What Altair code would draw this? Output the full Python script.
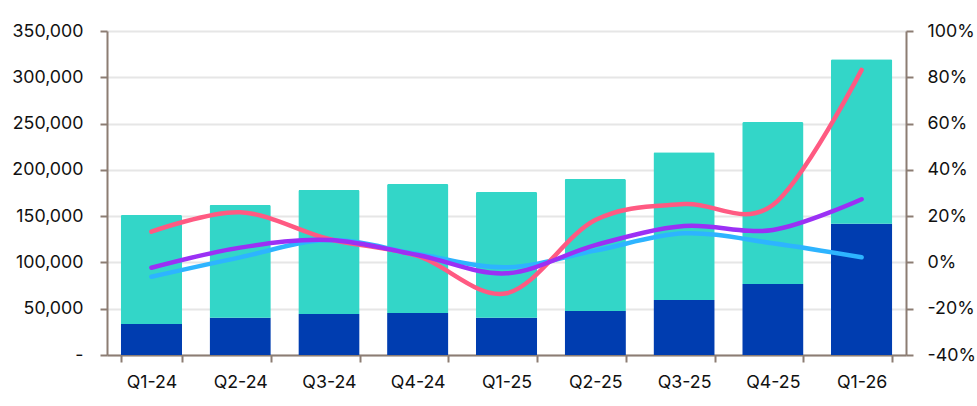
import altair as alt
import pandas as pd

categories = ["Q1-24", "Q2-24", "Q3-24", "Q4-24", "Q1-25", "Q2-25", "Q3-25", "Q4-25", "Q1-26"]
dark_values = [33500, 40300, 44300, 45400, 40300, 47500, 59400, 76700, 141800]
teal_values = [117700, 121700, 133900, 139300, 135700, 142600, 159600, 175000, 177600]
red_pct = [13.3, 21.7, 10.1, 2.8, -13.3, 18.3, 25.2, 24.8, 83.2]
purple_pct = [-2.3, 6.4, 9.7, 3.2, -4.7, 7.5, 15.7, 14.0, 27.3]
blue_pct = [-6.2, 2.2, 9.7, 3.6, -2.1, 5.1, 12.6, 8.3, 2.2]

FONT = "Inter"
FSIZE = 17.8
AXIS_COLOR = "#8C7D73"

bars = pd.DataFrame(
    [{"cat": c, "series": "A", "order": 0, "value": v} for c, v in zip(categories, dark_values)]
    + [{"cat": c, "series": "B", "order": 1, "value": v} for c, v in zip(categories, teal_values)]
)
lines = pd.DataFrame(
    [{"cat": c, "series": "blue", "o": 0, "pct": v} for c, v in zip(categories, blue_pct)]
    + [{"cat": c, "series": "red", "o": 1, "pct": v} for c, v in zip(categories, red_pct)]
    + [{"cat": c, "series": "purple", "o": 2, "pct": v} for c, v in zip(categories, purple_pct)]
)

xenc = alt.X(
    "cat:N",
    sort=categories,
    title=None,
    scale=alt.Scale(paddingInner=0.31, paddingOuter=0.155),
    axis=alt.Axis(
        labelAngle=0,
        tickBand="extent",
        tickSize=7,
        tickWidth=2,
        tickColor=AXIS_COLOR,
        domainColor=AXIS_COLOR,
        domainWidth=2,
        labelPadding=11,
        labelFontSize=FSIZE,
        labelFont=FONT,
        labelColor="#111111",
        grid=False,
    ),
)

bar_layer = alt.Chart(bars).mark_bar(cornerRadiusTopLeft=1.5, cornerRadiusTopRight=1.5).encode(
    x=xenc,
    y=alt.Y(
        "value:Q",
        stack="zero",
        title=None,
        scale=alt.Scale(domain=[0, 350000], nice=False),
        axis=alt.Axis(
            values=[0, 50000, 100000, 150000, 200000, 250000, 300000, 350000],
            labelExpr="datum.value == 0 ? '-' : format(datum.value, ',')",
            tickSize=7,
            tickWidth=2,
            tickColor=AXIS_COLOR,
            domainColor=AXIS_COLOR,
            domainWidth=2,
            labelPadding=17,
            labelFontSize=FSIZE,
            labelFont=FONT,
            labelColor="#111111",
            grid=True,
            gridColor="#E6E6E6",
            gridWidth=2,
        ),
    ),
    color=alt.Color(
        "series:N",
        scale=alt.Scale(domain=["A", "B"], range=["#003DB0", "#33D6C8"]),
        legend=None,
    ),
    order=alt.Order("order:Q"),
)

line_layer = alt.Chart(lines).mark_line(
    interpolate="cardinal", strokeWidth=4.5, strokeCap="round"
).encode(
    x=alt.X("cat:N", sort=categories),
    y=alt.Y(
        "pct:Q",
        title=None,
        scale=alt.Scale(domain=[-40, 100], nice=False),
        axis=alt.Axis(
            orient="right",
            values=[-40, -20, 0, 20, 40, 60, 80, 100],
            labelExpr="datum.value + '%'",
            tickSize=7,
            tickWidth=2,
            tickColor=AXIS_COLOR,
            domainColor=AXIS_COLOR,
            domainWidth=2,
            labelPadding=14,
            labelFontSize=FSIZE,
            labelFont=FONT,
            labelColor="#111111",
            grid=False,
        ),
    ),
    color=alt.Color(
        "series:N",
        scale=alt.Scale(domain=["blue", "red", "purple"], range=["#2DB4FF", "#FF5A82", "#9B30F5"]),
        legend=None,
    ),
    order=alt.Order("o:Q"),
    detail="series:N",
)

chart = (
    alt.layer(bar_layer, line_layer)
    .resolve_scale(y="independent", color="independent")
    .properties(
        width=799,
        height=324,
        autosize=alt.AutoSizeParams(type="none"),
        padding={"left": 107, "top": 31, "right": 71, "bottom": 51},
        background="white",
    )
    .configure_view(stroke=None)
)

chart.save("out.html", embed_options={"renderer": "svg", "actions": False})
